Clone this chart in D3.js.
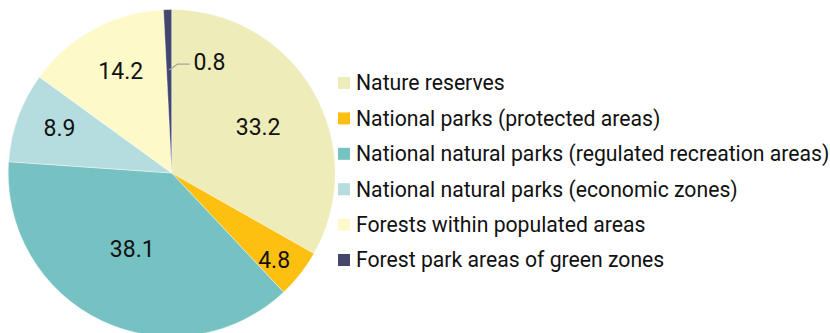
<!DOCTYPE html>
<html>
<head>
<meta charset="utf-8">
<script src="https://cdn.jsdelivr.net/npm/d3@7"></script>
<style>
  html, body { margin: 0; padding: 0; background: #fff; }
  svg { display: block; font-family: Roboto, "Noto Sans", sans-serif; }
</style>
</head>
<body>
<svg id="chart" width="830" height="333"></svg>
<script>
// Share of protected forest land by category (%)
const categories = [
  "Nature reserves",
  "National parks (protected areas)",
  "National natural parks (regulated recreation areas)",
  "National natural parks (economic zones)",
  "Forests within populated areas",
  "Forest park areas of green zones"
];
const values = [33.2, 4.8, 38.1, 8.9, 14.2, 0.8];
const colors = ["#eeecb9", "#fdc010", "#76c1c1", "#b5dcde", "#fdf9c8", "#43476b"];

const svg = d3.select("#chart");
const cx = 171.7, cy = 173, r = 163.5;

const data = categories.map((c, i) => ({ name: c, value: values[i], color: colors[i] }));
const pie = d3.pie().value(d => d.value).sort(null);
const arcs = pie(data);
const arc = d3.arc().innerRadius(0).outerRadius(r);

const g = svg.append("g").attr("transform", `translate(${cx},${cy})`);

g.selectAll("path.slice")
  .data(arcs)
  .join("path")
  .attr("class", "slice")
  .attr("d", arc)
  .attr("fill", d => d.data.color)
  .attr("stroke", "#fff")
  .attr("stroke-width", 0.4);

const fmt = d3.format(".1f");
// radial position of each value label, as a fraction of the radius
const labelRadius = [0.6, 0.82, 0.525, 0.74, 0.7, 0.63];
const angleShift = 0.035;

arcs.forEach((d, i) => {
  const mid = (d.startAngle + d.endAngle) / 2;
  if (d.data.value < 2) {
    // thin slice: label sits outside with a short leader line
    const rr = r * labelRadius[i];
    const p0 = [Math.sin(mid) * rr, -Math.cos(mid) * rr];
    const p1 = [p0[0] + 8.5, p0[1] - 6];
    const p2 = [p1[0] + 12, p1[1]];
    g.append("polyline")
      .attr("points", [p0, p1, p2].map(p => p.join(",")).join(" "))
      .attr("fill", "none")
      .attr("stroke", "#a3a3a3")
      .attr("stroke-width", 1.3);
    g.append("text")
      .attr("x", p2[0] + 4)
      .attr("y", p2[1] - 2)
      .attr("dy", "0.35em")
      .attr("font-size", 23)
      .attr("fill", "#111")
      .text(fmt(d.data.value));
  } else {
    const a = mid + angleShift;
    const rr = r * labelRadius[i];
    g.append("text")
      .attr("x", Math.sin(a) * rr)
      .attr("y", -Math.cos(a) * rr)
      .attr("dy", "0.35em")
      .attr("text-anchor", "middle")
      .attr("font-size", 23)
      .attr("fill", "#111")
      .text(fmt(d.data.value));
  }
});

// legend
const legend = svg.append("g").attr("transform", "translate(338,83)");
const rowH = 35.4;
const item = legend.selectAll("g.item")
  .data(data)
  .join("g")
  .attr("class", "item")
  .attr("transform", (d, i) => `translate(0,${i * rowH})`);
item.append("rect")
  .attr("x", 0).attr("y", -6)
  .attr("width", 12).attr("height", 12)
  .attr("fill", d => d.color);
item.append("text")
  .attr("x", 18)
  .attr("y", 0)
  .attr("dy", "0.35em")
  .attr("font-size", 21.2)
  .attr("fill", "#111")
  .text(d => d.name);
</script>
</body>
</html>
